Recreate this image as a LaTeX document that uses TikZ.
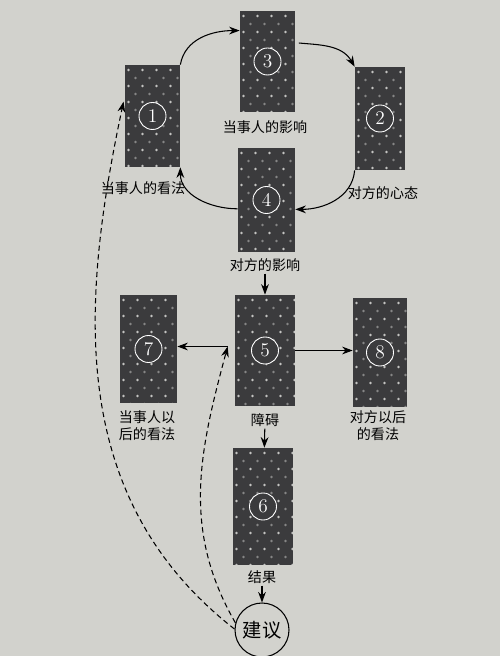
\documentclass[tikz,border=0pt]{standalone}
\usepackage{fontspec}
\newfontfamily\cjk{Noto Sans CJK SC}
\usetikzlibrary{arrows.meta,calc}
\definecolor{paper}{HTML}{D2D2CD}
\definecolor{cardgray}{HTML}{3B3B3D}
\definecolor{dotgray}{HTML}{C4C4C2}

\tikzset{
  card/.style={fill=cardgray, inner sep=0pt,
    path picture={
      \foreach \j [evaluate=\j as \off using {mod(\j,2)*0.14+0.07},
                   evaluate=\j as \lum using {100-mod(\j,2)*45}] in {0,...,15}
        \foreach \i in {0,...,4}
          \fill[dotgray!\lum!cardgray] ($(path picture bounding box.north west)+(\i*0.28cm+\off cm,-\j*0.16cm-0.1cm)$) circle (0.028cm);
    }},
  num/.style={draw=white, fill=cardgray, circle, text=white, line width=0.5pt, inner sep=0pt,
    minimum size=0.54cm, font=\fontsize{11}{11}\selectfont},
  lbl/.style={font=\cjk\fontsize{8}{9.6}\selectfont, align=center, inner sep=1pt},
  tip/.style={-{Stealth[length=6pt,width=4.4pt]}, line width=0.6pt},
  hint/.style={tip, dash pattern=on 3pt off 2pt},
}

\begin{document}
\begin{tikzpicture}[x=0.02cm,y=0.02cm]
  \useasboundingbox (0,0) rectangle (500,656);
  \fill[paper] (0,0) rectangle (500,656);

  % cards
  \node[card, minimum width=1.10cm, minimum height=2.04cm] (c1) at (152.5,540) {};
  \node[card, minimum width=1.00cm, minimum height=2.06cm] (c2) at (380,537.5) {};
  \node[card, minimum width=1.10cm, minimum height=2.02cm] (c3) at (267.5,594.5) {};
  \node[card, minimum width=1.14cm, minimum height=2.08cm] (c4) at (266.5,456) {};
  \node[card, minimum width=1.20cm, minimum height=2.22cm] (c5) at (265,305.5) {};
  \node[card, minimum width=1.20cm, minimum height=2.34cm] (c6) at (263,149.5) {};
  \node[card, minimum width=1.14cm, minimum height=2.16cm] (c7) at (148.5,307) {};
  \node[card, minimum width=1.08cm, minimum height=2.18cm] (c8) at (380,303.5) {};
  \foreach \k in {1,...,8}
    \node[num] (n\k) at (c\k) {\k};

  % labels
  \node[lbl] (l1) at (143,468) {当事人的看法};
  \node[lbl] (l2) at (383,463) {对方的心态};
  \node[lbl] (l3) at (265,529) {当事人的影响};
  \node[lbl] (l4) at (265,391) {对方的影响};
  \node[lbl] (l5) at (265,236) {障碍};
  \node[lbl] (l6) at (262,79) {结果};
  \node[lbl] (l7) at (147,230) {当事人以\\后的看法};
  \node[lbl] (l8) at (378,230) {对方以后\\的看法};
  \node[draw, circle, line width=0.6pt, minimum size=1.08cm, inner sep=0pt,
    font=\cjk\fontsize{11}{11}\selectfont] (adv) at (262,26) {建议};

  \coordinate (split) at ($(c5.west)+(-7,4)$);

  \path[tip]
    (c1.north east) edge[out=80, in=180] (c3.132)
    (c3.34) edge[out=-5, in=120, shorten <=2pt] (c2.north west)
    (c2.south west) edge[out=-95, in=0] (c4.-18)
    (c4.197) edge[out=180, in=-90] (c1.south east)
    (l4) edge (c5)
    (split) edge (c7.east |- split)
    (c5.east) edge (c8.west |- c5.east)
    (l5) edge (c6)
    (l6) edge (adv);
  \path[hint]
    (adv.178) edge[out=142, in=-102, shorten >=3pt] (c1.145)
    (adv.165) edge[out=120, in=-105] (split);
\end{tikzpicture}
\end{document}
